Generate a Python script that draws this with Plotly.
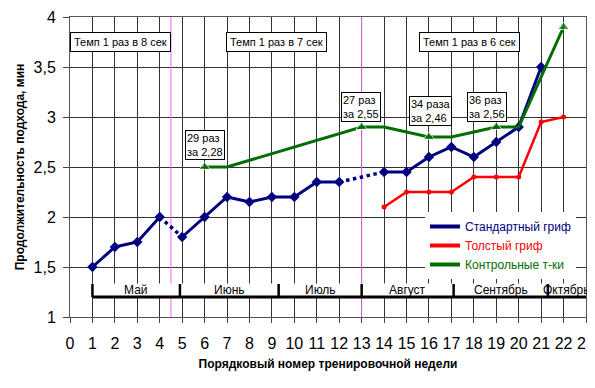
import plotly.graph_objects as go

# ---------------- data ----------------
std_weeks = [1, 2, 3, 4, 5, 6, 7, 8, 9, 10, 11, 12, 14, 15, 16, 17, 18, 19, 20, 21]
std_vals = [1.5, 1.7, 1.75, 2.0, 1.8, 2.0, 2.2, 2.15, 2.2, 2.2, 2.35, 2.35,
            2.45, 2.45, 2.6, 2.7, 2.6, 2.75, 2.9, 3.5]
std_dotted_after = [4, 12]          # weeks after which the connection is dotted

thick_weeks = [14, 15, 16, 17, 18, 19, 20, 21, 22]
thick_vals = [2.1, 2.25, 2.25, 2.25, 2.4, 2.4, 2.4, 2.95, 3.0]

ctrl_weeks = [6, 7, 13, 14, 16, 17, 19, 20, 22]
ctrl_vals = [2.5, 2.5, 2.9, 2.9, 2.8, 2.8, 2.9, 2.9, 3.9]
ctrl_test_weeks = [6, 13, 16, 19, 22]
ctrl_labels = ["29 раз<br>за 2,28", "27 раз<br>за 2,55", "34 раза<br>за 2,46",
               "36 раз<br>за 2,56", "43 раза<br>за 3,52"]

tempo_labels = ["Темп 1 раз в 8 сек", "Темп 1 раз в 7 сек", "Темп 1 раз в 6 сек"]
tempo_x = [2.25, 9.2, 17.8]

months = ["Май", "Июнь", "Июль", "Август", "Сентябрь", "Октябрь"]
month_bounds = [1, 4.9, 9.3, 13, 17.1, 21.3, 23]

phase_lines = [4.5, 13]

x_ticks = list(range(0, 24))
y_ticks = [1, 1.5, 2, 2.5, 3, 3.5, 4]
y_ticktext = ["1", "1,5", "2", "2,5", "3", "3,5", "4"]

NAVY = "#000080"
RED = "#FF0000"
GREEN = "#006E00"
FONT = "Liberation Sans, Arial, sans-serif"

# ---------------- build ----------------
fig = go.Figure()

# standard bar: solid segments with gaps, dotted connectors
sx, sy, dx, dy = [], [], [], []
for i, (w, v) in enumerate(zip(std_weeks, std_vals)):
    sx.append(w); sy.append(v)
    if w in std_dotted_after and i + 1 < len(std_weeks):
        sx.append(None); sy.append(None)
        dx += [w, std_weeks[i + 1], None]
        dy += [v, std_vals[i + 1], None]

fig.add_trace(go.Scatter(x=dx, y=dy, mode="lines", showlegend=False,
                         line=dict(color=NAVY, width=3.5, dash="dot"), hoverinfo="skip"))
fig.add_trace(go.Scatter(x=sx, y=sy, mode="lines+markers", showlegend=False,
                         line=dict(color=NAVY, width=3),
                         marker=dict(symbol="diamond", size=8, color=NAVY)))

fig.add_trace(go.Scatter(x=thick_weeks, y=thick_vals, mode="lines+markers", showlegend=False,
                         line=dict(color=RED, width=2.5),
                         marker=dict(symbol="circle", size=5, color=RED)))

fig.add_trace(go.Scatter(x=ctrl_weeks, y=ctrl_vals, mode="lines+markers", showlegend=False,
                         line=dict(color=GREEN, width=3),
                         marker=dict(symbol="triangle-up", color=GREEN,
                                     size=[10 if w in ctrl_test_weeks else 0 for w in ctrl_weeks])))

# legend-only entries
for name, col in [("Стандартный гриф", NAVY), ("Толстый гриф", RED), ("Контрольные т-ки", GREEN)]:
    fig.add_trace(go.Scatter(x=[None], y=[None], mode="lines",
                             name=f"<span style='color:{col}'>{name}</span>",
                             line=dict(color=col, width=4)))

shapes = []
for px in phase_lines:
    shapes.append(dict(type="line", xref="x", yref="y", x0=px, x1=px, y0=1, y1=4,
                       line=dict(color="#EE66EE", width=1), layer="between"))
# month band
shapes.append(dict(type="rect", xref="x", yref="y", x0=month_bounds[0], x1=month_bounds[-1],
                   y0=1.2, y1=1.335, fillcolor="white", line=dict(width=0), layer="above"))
shapes.append(dict(type="line", xref="x", yref="y", x0=month_bounds[0], x1=month_bounds[-1],
                   y0=1.2, y1=1.2, line=dict(color="black", width=3), layer="above"))
for b in month_bounds[:-1]:
    shapes.append(dict(type="line", xref="x", yref="y", x0=b, x1=b, y0=1.2, y1=1.33,
                       line=dict(color="black", width=2.5), layer="above"))

annotations = []
for i, m in enumerate(months):
    annotations.append(dict(x=(month_bounds[i] + month_bounds[i + 1]) / 2, y=1.27,
                            xref="x", yref="y", text=m, showarrow=False,
                            font=dict(size=12, color="black", family=FONT)))

ctrl_box_pos = [(6.0, 2.72), (12.97, 3.1), (16.05, 3.06), (18.6, 3.1), (21.76, 4.07)]
for (bx, by), t in zip(ctrl_box_pos, ctrl_labels):
    annotations.append(dict(x=bx, y=by, xref="x", yref="y", text=t, showarrow=False,
                            align="left", bgcolor="white", bordercolor="black",
                            borderwidth=1, borderpad=1,
                            font=dict(size=11, color="black", family=FONT)))
for tx, t in zip(tempo_x, tempo_labels):
    annotations.append(dict(x=tx, y=3.75, xref="x", yref="y", text=t, showarrow=False,
                            bgcolor="white", bordercolor="black", borderwidth=1, borderpad=3,
                            font=dict(size=11, color="black", family=FONT)))

# page body adds an 8px offset; sizes compensate so the plot area spans x 70-586, y 17-317
fig.update_layout(
    width=587, height=380,
    margin=dict(l=62, r=9, t=9, b=71, autoexpand=False),
    paper_bgcolor="white", plot_bgcolor="white",
    font=dict(family=FONT, color="black"),
    shapes=shapes, annotations=annotations,
    showlegend=True,
    legend=dict(x=0.688, y=0.35, xanchor="left", yanchor="top",
                bgcolor="white", borderwidth=0,
                font=dict(size=12, family=FONT)),
    xaxis=dict(range=[0, 23], tickvals=x_ticks, ticks="outside", ticklen=5,
               tickcolor="#444", showgrid=True, gridcolor="#333", gridwidth=1.2,
               showline=True, linecolor="#555", mirror=True, zeroline=False,
               automargin=False,
               tickfont=dict(size=16, family=FONT), ticklabelstandoff=7,
               title=dict(text="<b>Порядковый номер тренировочной недели</b>",
                          font=dict(size=12, family=FONT), standoff=8)),
    yaxis=dict(range=[1, 4], tickvals=y_ticks, ticktext=y_ticktext, ticks="outside",
               ticklen=6, tickcolor="#444", showgrid=True, gridcolor="#333", gridwidth=1.2,
               showline=True, linecolor="#555", mirror=True, zeroline=False,
               automargin=False,
               tickfont=dict(size=16, family=FONT), ticklabelstandoff=4,
               title=dict(text="<b>Продолжительность подхода, мин</b>",
                          font=dict(size=12, family=FONT), standoff=6)),
)

fig.write_html("out.html")
